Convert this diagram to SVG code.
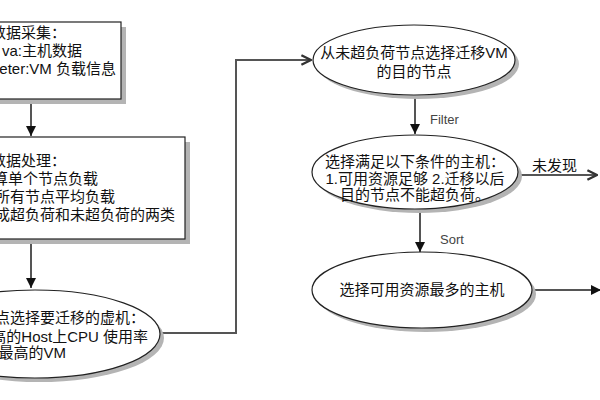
<svg xmlns="http://www.w3.org/2000/svg" width="600" height="400" viewBox="0 0 600 400">
<style>
.t{font-family:"Liberation Sans","Noto Sans CJK SC",sans-serif;font-size:15px;fill:#111}
.e{text-anchor:end}
.m{text-anchor:middle}
.lbl{font-family:"Liberation Sans","Noto Sans CJK SC",sans-serif;font-size:13px;fill:#444}
.shape{fill:#fff;stroke:#222;stroke-width:1.2}
.shadow{fill:#b4b4b4}
.c{fill:none;stroke:#555;stroke-width:2}
</style>
<defs>
<marker id="fa" viewBox="0 0 10 10" refX="10" refY="5" markerWidth="5" markerHeight="5" markerUnits="strokeWidth" orient="auto">
<path d="M0,0 L10,5 L0,10 z" fill="#111"/>
</marker>
<marker id="oa" viewBox="0 0 10 10" refX="9" refY="5" markerWidth="6" markerHeight="6" markerUnits="strokeWidth" orient="auto">
<path d="M1,1 L9,5 L1,9" fill="none" stroke="#333" stroke-width="2"/>
</marker>
</defs>
<rect width="600" height="400" fill="#fff"/>

<g id="connectors">
<line class="c" x1="31" y1="99" x2="31" y2="136" marker-end="url(#fa)"/>
<line class="c" x1="31" y1="239" x2="31" y2="288" marker-end="url(#fa)"/>
<polyline class="c" points="160,333 236,333 236,60 311,60" marker-end="url(#oa)"/>
<line class="c" x1="415" y1="95" x2="415" y2="134" marker-end="url(#fa)"/>
<line class="c" x1="420" y1="210" x2="420" y2="252" marker-end="url(#fa)"/>
<line class="c" x1="518" y1="175" x2="597" y2="175" marker-end="url(#oa)"/>
<line class="c" x1="532" y1="290" x2="601" y2="290" marker-end="url(#fa)"/>
<text class="lbl" x="430" y="124">Filter</text>
<text class="lbl" x="440" y="244">Sort</text>
<text class="t" x="532" y="171">未发现</text>
</g>

<g id="node-collect">
<rect class="shadow" x="-10" y="27" width="136" height="77"/>
<rect class="shape" x="-10" y="22" width="131" height="77"/>
<text class="t e" x="66" y="38">数据采集：</text>
<text class="t e" x="82" y="56">va:主机数据</text>
<text class="t e" x="116" y="74">eter:VM 负载信息</text>
</g>

<g id="node-process">
<rect class="shadow" x="-10" y="142" width="200" height="102"/>
<rect class="shape" x="-10" y="137" width="195" height="102"/>
<text class="t e" x="66" y="166">数据处理：</text>
<text class="t e" x="98" y="184">算单个节点负载</text>
<text class="t e" x="115" y="202">所有节点平均负载</text>
<text class="t e" x="175" y="220">成超负荷和未超负荷的两类</text>
</g>

<g id="node-select-vm">
<ellipse class="shadow" cx="39" cy="338" rx="125" ry="44"/>
<ellipse class="shape" cx="35" cy="334" rx="125" ry="44"/>
<text class="t e" x="145" y="323">点选择要迁移的虚机：</text>
<text class="t e" x="148" y="342">高的Host上CPU 使用率</text>
<text class="t e" x="66" y="358">最高的VM</text>
</g>

<g id="node-target">
<ellipse class="shadow" cx="418" cy="64" rx="101" ry="35"/>
<ellipse class="shape" cx="414" cy="60" rx="101" ry="35"/>
<text class="t m" x="414" y="58">从未超负荷节点选择迁移VM</text>
<text class="t m" x="414" y="77">的目的节点</text>
</g>

<g id="node-filter">
<ellipse class="shadow" cx="419" cy="176" rx="103" ry="37"/>
<ellipse class="shape" cx="415" cy="172" rx="103" ry="37"/>
<text class="t m" x="415" y="167">选择满足以下条件的主机：</text>
<text class="t m" x="415" y="184">1.可用资源足够 2.迁移以后</text>
<text class="t m" x="415" y="200">目的节点不能超负荷。</text>
</g>

<g id="node-sort">
<ellipse class="shadow" cx="426" cy="294" rx="110" ry="38"/>
<ellipse class="shape" cx="422" cy="290" rx="110" ry="38"/>
<text class="t m" x="422" y="295">选择可用资源最多的主机</text>
</g>
</svg>
